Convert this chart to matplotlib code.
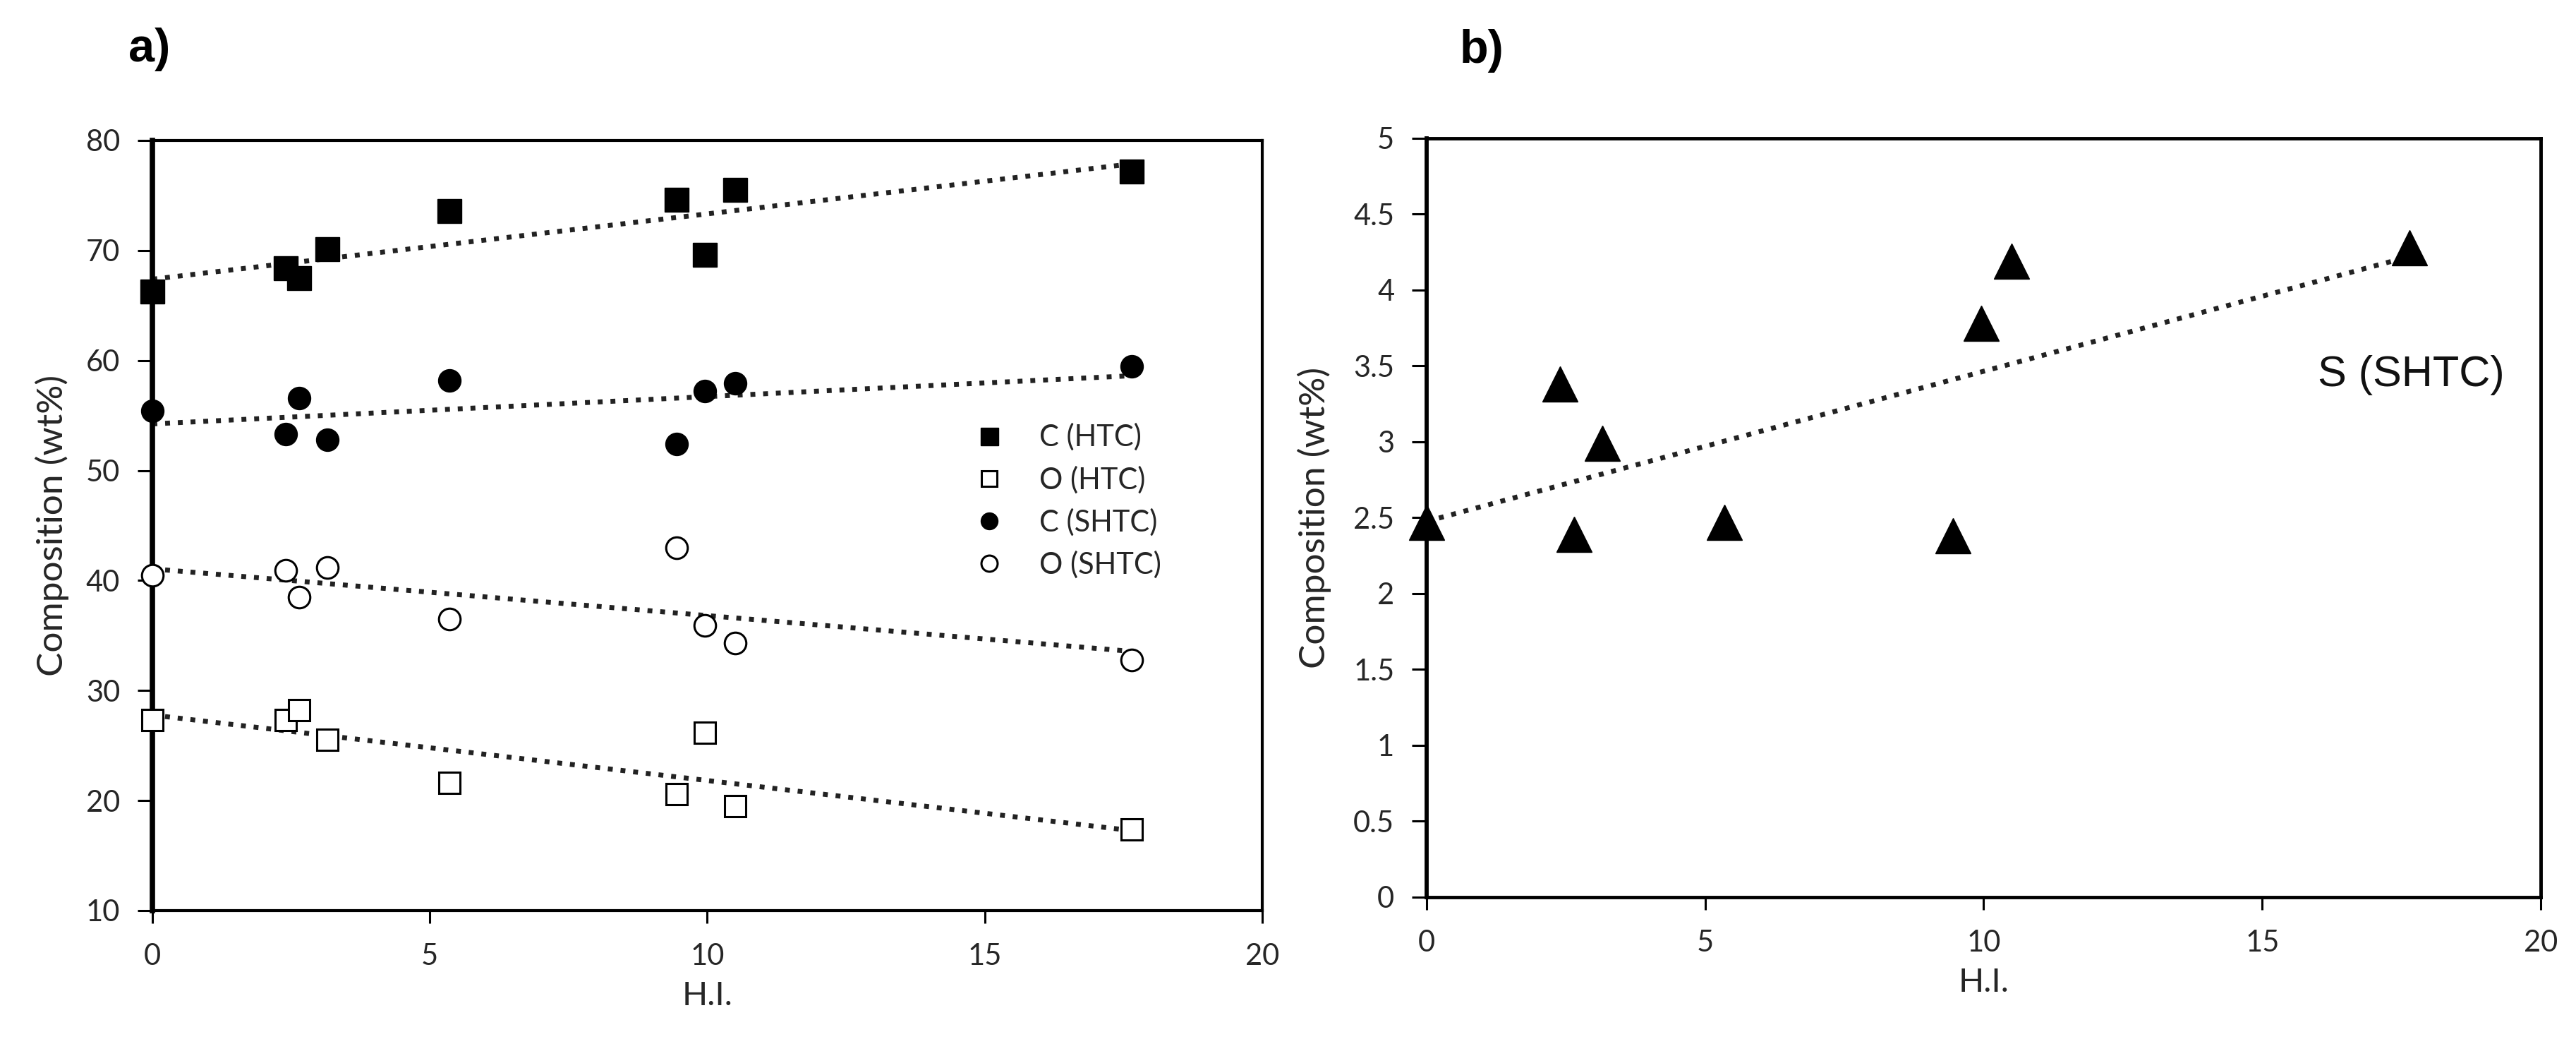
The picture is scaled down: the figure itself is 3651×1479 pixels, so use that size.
import numpy as np
import matplotlib.pyplot as plt
from matplotlib.ticker import FuncFormatter

# ----------------------------
# Data
# ----------------------------
hi = [0, 2.4, 2.65, 3.15, 5.35, 9.45, 9.95, 10.5, 17.65]

c_htc = [66.3, 68.4, 67.5, 70.1, 73.6, 74.6, 69.6, 75.5, 77.2]
o_htc = [27.3, 27.3, 28.2, 25.5, 21.6, 20.6, 26.2, 19.5, 17.4]
c_shtc = [55.4, 53.3, 56.6, 52.8, 58.2, 52.4, 57.2, 57.9, 59.5]
o_shtc = [40.5, 40.9, 38.5, 41.2, 36.5, 43.0, 35.9, 34.3, 32.8]

s_shtc = [2.47, 3.38, 2.39, 2.99, 2.47, 2.38, 3.78, 4.19, 4.28]

series_a = ["C (HTC)", "O (HTC)", "C (SHTC)", "O (SHTC)"]

plt.rcParams['font.family'] = ['Lato', 'DejaVu Sans']

fig = plt.figure(figsize=(36.51, 14.79), dpi=100)
ax_a = fig.add_axes([0.05916, 0.12779, 0.43083, 0.73766])
ax_b = fig.add_axes([0.55382, 0.14064, 0.43248, 0.72684])

trend_style = dict(color="#222222", lw=5, linestyle=(0, (1, 1.6)), zorder=2)


def trend(ax, x, y):
    k, b = np.polyfit(x, y, 1)
    xs = np.array([min(x), max(x)])
    ax.plot(xs, k * xs + b, **trend_style)


def style_axes(ax, left_lw, other_lw):
    for side in ["top", "right", "bottom"]:
        ax.spines[side].set_linewidth(other_lw)
    ax.spines["left"].set_linewidth(left_lw)
    ax.tick_params(direction="out", length=15, width=2.2, labelsize=30,
                   labelcolor="#262626", pad=18)
    ax.tick_params(axis="x", length=13, pad=20)
    ax.tick_params(top=False, right=False)


# ----------------------------
# a) C and O composition
# ----------------------------
mk = dict(ls="none", clip_on=False, zorder=3)
ax_a.plot(hi, c_htc, marker="s", ms=24, mfc="black", mec="black", label=series_a[0], **mk)
ax_a.plot(hi, o_htc, marker="s", ms=22, mfc="white", mec="black", mew=2.2, label=series_a[1], **mk)
ax_a.plot(hi, c_shtc, marker="o", ms=23, mfc="black", mec="black", label=series_a[2], **mk)
ax_a.plot(hi, o_shtc, marker="o", ms=22, mfc="white", mec="black", mew=2.2, label=series_a[3], **mk)
for ys in [c_htc, o_htc, c_shtc, o_shtc]:
    trend(ax_a, hi, ys)

ax_a.set_xlim(0, 20)
ax_a.set_ylim(10, 80)
ax_a.set_xticks(np.arange(0, 21, 5))
ax_a.set_yticks(np.arange(10, 81, 10))
ax_a.set_xlabel("H.I.", fontsize=34, color="#262626", labelpad=12)
ax_a.set_ylabel("Composition (wt%)", fontsize=37, color="#262626", labelpad=17)
style_axes(ax_a, 5.5, 3)

leg = ax_a.legend(loc="upper left", bbox_to_anchor=(0.73, 0.648), frameon=False,
                  fontsize=30, markerscale=0.75, handlelength=1.0, handletextpad=1.2,
                  labelspacing=0.5, borderaxespad=0)
for t in leg.get_texts():
    t.set_color("#262626")

# ----------------------------
# b) S composition
# ----------------------------
ax_b.plot(hi, s_shtc, marker="^", ms=36, mfc="black", mec="black", **mk)
trend(ax_b, hi, s_shtc)
ax_b.text(16.0, 3.44, "S (SHTC)", fontsize=44, family=["Liberation Sans"],
          ha="left", va="center", color="#111111")

ax_b.set_xlim(0, 20)
ax_b.set_ylim(0, 5)
ax_b.set_xticks(np.arange(0, 21, 5))
ax_b.set_yticks(np.arange(0, 5.01, 0.5))
ax_b.yaxis.set_major_formatter(FuncFormatter(lambda v, p: f"{v:g}"))
ax_b.set_xlabel("H.I.", fontsize=34, color="#262626", labelpad=12)
ax_b.set_ylabel("Composition (wt%)", fontsize=37, color="#262626", labelpad=22)
style_axes(ax_b, 4.2, 3.5)

# panel labels
fig.text(182 / 3651, 1 - 70 / 1479, "a)", fontsize=48, fontweight="bold",
         family=["Liberation Sans"], va="center", ha="left")
fig.text(2069 / 3651, 1 - 72 / 1479, "b)", fontsize=48, fontweight="bold",
         family=["Liberation Sans"], va="center", ha="left")

fig.savefig("out.png", dpi=100)
